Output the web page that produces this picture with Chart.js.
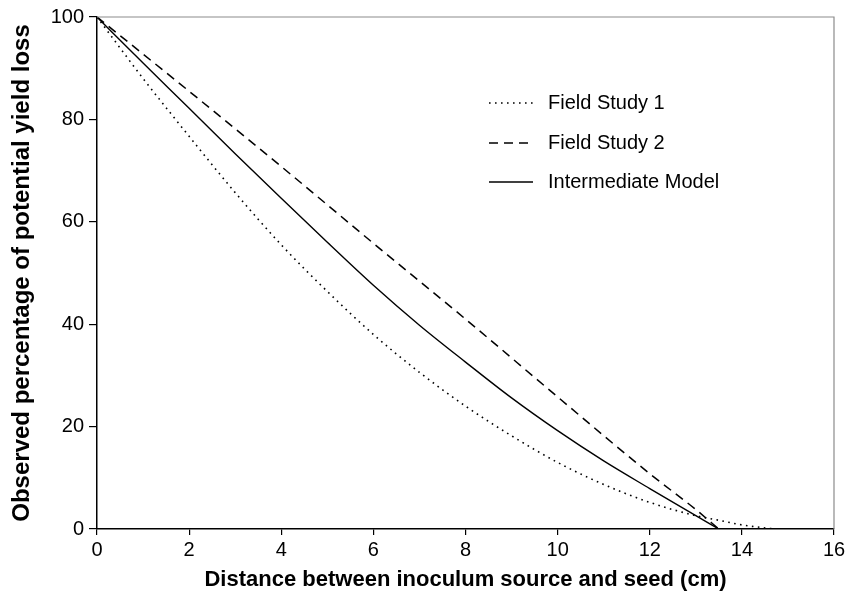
<!DOCTYPE html>
<html>
<head>
<meta charset="utf-8">
<script src="https://cdn.jsdelivr.net/npm/chart.js@4"></script>
<style>
  html, body { margin: 0; padding: 0; background: #fff; }
  #wrap { width: 849px; height: 596px; }
</style>
</head>
<body>
<div id="wrap"><canvas id="chart"></canvas></div>
<script>
// dati
const fs1X = [0, 1, 2, 3, 4, 5, 6, 7, 8, 9, 10, 11, 12, 13, 13.5, 14, 14.7];
const fs1Y = [100, 88, 76.7, 65.7, 55.5, 46.4, 38, 30.6, 24, 18.2, 13, 8.7, 5.2, 2.6, 1.7, 0.8, 0];

const fs2X = [0, 2, 4, 6, 8, 10, 12, 13, 13.5];
const fs2Y = [100, 85.5, 70.8, 55.8, 41, 25.8, 10.8, 3.8, 0];

const modelX = [0, 1, 2, 3, 4, 5, 6, 7, 8, 9, 10, 11, 12, 13, 13.5];
const modelY = [100, 91, 82.2, 73.3, 64.6, 56, 47.6, 39.8, 32.6, 25.6, 19.2, 13.3, 7.9, 2.6, 0];

const xTicks = [0, 2, 4, 6, 8, 10, 12, 14, 16];
const yTicks = [0, 20, 40, 60, 80, 100];

const FONT = '"Liberation Sans", Arial, Helvetica, sans-serif';

function punti(xs, ys) {
    return xs.map((x, i) => ({ x: x, y: ys[i] }));
}

// legenda disegnata dentro l'area del grafico + bordo grigio sopra/destra
const extraPlugin = {
    id: 'extra',
    afterDraw(chart) {
        const ctx = chart.ctx;
        const a = chart.chartArea;
        ctx.save();
        ctx.strokeStyle = '#8c8c8c';
        ctx.lineWidth = 1.2;
        ctx.beginPath();
        ctx.moveTo(a.left, a.top);
        ctx.lineTo(a.right, a.top);
        ctx.lineTo(a.right, a.bottom);
        ctx.stroke();

        const rows = [103, 143, 182];
        ctx.font = '20px ' + FONT;
        ctx.fillStyle = '#000';
        ctx.textBaseline = 'middle';
        chart.data.datasets.forEach((ds, i) => {
            ctx.strokeStyle = '#000';
            ctx.lineWidth = ds.borderWidth;
            ctx.setLineDash(ds.borderDash || []);
            ctx.beginPath();
            ctx.moveTo(489, rows[i]);
            ctx.lineTo(533, rows[i]);
            ctx.stroke();
            ctx.setLineDash([]);
            ctx.fillText(ds.label, 548, rows[i]);
        });
        ctx.restore();
    }
};

new Chart(document.getElementById('chart'), {
    type: 'line',
    data: {
        datasets: [
            {
                label: 'Field Study 1',
                data: punti(fs1X, fs1Y),
                borderColor: '#000',
                borderWidth: 1.6,
                borderDash: [1.6, 4.4],
                pointRadius: 0,
                tension: 0.3,
                cubicInterpolationMode: 'monotone'
            },
            {
                label: 'Field Study 2',
                data: punti(fs2X, fs2Y),
                borderColor: '#000',
                borderWidth: 1.5,
                borderDash: [9, 6],
                pointRadius: 0,
                tension: 0.3,
                cubicInterpolationMode: 'monotone'
            },
            {
                label: 'Intermediate Model',
                data: punti(modelX, modelY),
                borderColor: '#000',
                borderWidth: 1.4,
                pointRadius: 0,
                tension: 0.3,
                cubicInterpolationMode: 'monotone'
            }
        ]
    },
    options: {
        responsive: true,
        maintainAspectRatio: false,
        animation: false,
        layout: { padding: { top: 15, right: 15, left: 0, bottom: 0 } },
        plugins: {
            legend: { display: false },
            tooltip: { enabled: false }
        },
        scales: {
            x: {
                type: 'linear',
                min: 0,
                max: 16,
                afterFit(scale) { scale.height = 67; },
                afterBuildTicks(scale) { scale.ticks = xTicks.map(v => ({ value: v })); },
                border: { color: '#000', width: 1.5 },
                grid: { drawOnChartArea: false, color: '#000', tickLength: 6, lineWidth: 1.2 },
                ticks: { color: '#000', font: { family: FONT, size: 20 }, padding: 3, maxRotation: 0 },
                title: {
                    display: true,
                    text: 'Distance between inoculum source and seed (cm)',
                    color: '#000',
                    font: { family: FONT, size: 22, weight: 'bold' },
                    padding: { top: 0, bottom: 3 }
                }
            },
            y: {
                type: 'linear',
                min: 0,
                max: 100,
                afterFit(scale) { scale.width = 97; },
                afterBuildTicks(scale) { scale.ticks = yTicks.map(v => ({ value: v })); },
                border: { color: '#000', width: 1.5 },
                grid: { drawOnChartArea: false, color: '#000', tickLength: 8, lineWidth: 1.2 },
                ticks: { color: '#000', font: { family: FONT, size: 20 }, padding: 5 },
                title: {
                    display: true,
                    text: 'Observed percentage of potential yield loss',
                    color: '#000',
                    font: { family: FONT, size: 24, weight: 'bold' },
                    padding: { top: 8, bottom: 0 }
                }
            }
        }
    },
    plugins: [extraPlugin]
});
</script>
</body>
</html>
